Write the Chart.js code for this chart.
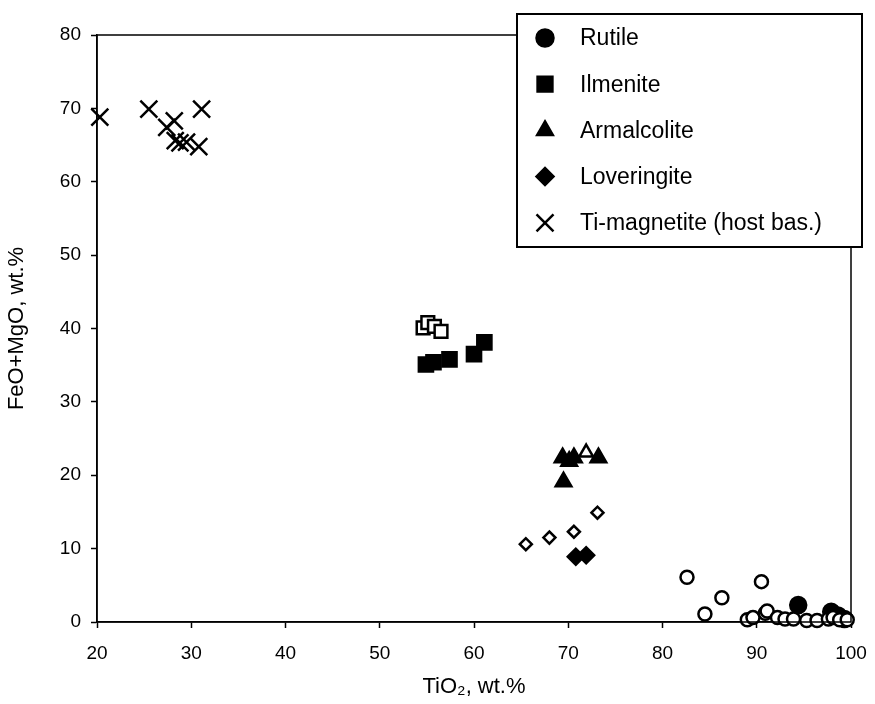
<!DOCTYPE html>
<html>
<head>
<meta charset="utf-8">
<script src="https://cdn.jsdelivr.net/npm/chart.js@4"></script>
<style>
  html, body { margin: 0; padding: 0; background: #fff; }
  #wrap { width: 875px; height: 704px; }
</style>
</head>
<body>
<div id="wrap"><canvas id="bieuDo"></canvas></div>
<script>
// du lieu doc tu hinh: [TiO2, FeO+MgO]
const rutileFilled = [[94.4, 2.3], [97.9, 1.4], [98.6, 0.9], [99.3, 0.4]];
const rutileOpen = [[82.6, 6.1], [86.3, 3.3], [84.5, 1.1], [90.5, 5.5], [89.0, 0.3], [89.6, 0.6],
  [90.9, 1.2], [91.1, 1.5], [92.2, 0.6], [93.0, 0.4], [93.9, 0.4], [95.3, 0.2], [96.4, 0.2],
  [97.6, 0.4], [98.1, 0.6], [98.8, 0.3], [99.6, 0.3]];
const ilmeniteFilled = [[54.9, 35.1], [55.7, 35.4], [57.4, 35.8], [60.0, 36.5], [61.1, 38.1]];
const ilmeniteOpen = [[54.6, 40.1], [55.1, 40.8], [55.8, 40.3], [56.5, 39.6]];
const armalFilled = [[69.4, 22.4], [70.1, 21.9], [70.6, 22.4], [73.2, 22.4], [69.5, 19.1]];
const armalOpen = [[71.9, 23.1]];
const loverFilled = [[70.8, 8.9], [71.9, 9.1]];
const loverOpen = [[65.5, 10.6], [68.0, 11.5], [70.6, 12.3], [73.1, 14.9]];
const magnetite = [[20.3, 68.8], [25.5, 69.9], [27.4, 67.4], [28.2, 68.3], [28.3, 65.6],
  [28.8, 65.3], [29.5, 65.4], [30.8, 64.8], [31.1, 69.9]];

const xTicks = [20, 30, 40, 50, 60, 70, 80, 90, 100];
const yTicks = [0, 10, 20, 30, 40, 50, 60, 70, 80];

const chuThich = [
  { ten: 'Rutile', kieu: 'circle', r: 8.5 },
  { ten: 'Ilmenite', kieu: 'rect', r: 10.5 },
  { ten: 'Armalcolite', kieu: 'triangle', r: 9 },
  { ten: 'Loveringite', kieu: 'rectRot', r: 8.5 },
  { ten: 'Ti-magnetite (host bas.)', kieu: 'crossRot', r: 12 }
];

function diem(arr) {
  return arr.map(p => ({ x: p[0], y: p[1] }));
}

function tapDuLieu(arr, kieu, r, day) {
  return {
    data: diem(arr),
    pointStyle: kieu,
    pointRadius: r,
    pointHoverRadius: r,
    borderColor: '#000',
    backgroundColor: day ? '#000' : '#fff',
    borderWidth: 2.5,
    showLine: false,
    clip: false
  };
}

const FONT = 'Liberation Sans, Arial, sans-serif';

// ve khung va chu thich
const khungPlugin = {
  id: 'khung',
  afterDraw(chart) {
    const ctx = chart.ctx;
    const a = chart.chartArea;
    ctx.save();
    ctx.strokeStyle = '#000';
    ctx.lineWidth = 1.5;
    ctx.strokeRect(a.left, a.top, a.right - a.left, a.bottom - a.top);

    // hop chu thich
    const bx = 517, by = 14, bw = 345, bh = 233;
    ctx.fillStyle = '#fff';
    ctx.fillRect(bx, by, bw, bh);
    ctx.lineWidth = 2;
    ctx.strokeRect(bx, by, bw, bh);
    ctx.font = '23px ' + FONT;
    ctx.textBaseline = 'middle';
    chuThich.forEach((c, i) => {
      const y = 38 + i * 46.2;
      ctx.fillStyle = '#000';
      ctx.strokeStyle = '#000';
      ctx.lineWidth = 2.5;
      Chart.helpers.drawPoint(ctx, { pointStyle: c.kieu, radius: c.r, borderWidth: 2.5 }, 545, y);
      ctx.fill();
      ctx.fillStyle = '#000';
      ctx.fillText(c.ten, 580, y + 1);
    });
    ctx.restore();
  }
};

new Chart(document.getElementById('bieuDo'), {
  type: 'scatter',
  data: {
    datasets: [
      tapDuLieu(rutileOpen, 'circle', 6.5, false),
      tapDuLieu(rutileFilled, 'circle', 8, true),
      tapDuLieu(ilmeniteOpen, 'rect', 9, false),
      tapDuLieu(ilmeniteFilled, 'rect', 10, true),
      tapDuLieu(armalOpen, 'triangle', 8, false),
      tapDuLieu(armalFilled, 'triangle', 9, true),
      tapDuLieu(loverOpen, 'rectRot', 6, false),
      tapDuLieu(loverFilled, 'rectRot', 8, true),
      tapDuLieu(magnetite, 'crossRot', 12, true)
    ]
  },
  options: {
    responsive: true,
    maintainAspectRatio: false,
    animation: false,
    layout: { padding: { top: 35, right: 24, left: 0, bottom: 0 } },
    plugins: {
      legend: { display: false },
      tooltip: { enabled: false }
    },
    scales: {
      x: {
        type: 'linear',
        min: 20,
        max: 100,
        afterBuildTicks: s => { s.ticks = xTicks.map(v => ({ value: v })); },
        afterFit: s => { s.height = 82; s.paddingLeft = 0; s.paddingRight = 0; },
        grid: { drawOnChartArea: false, tickLength: 6, color: '#000', tickWidth: 1.5 },
        border: { color: '#000', width: 1.5 },
        ticks: { color: '#000', font: { family: FONT, size: 19 }, padding: 14 },
        title: {
          display: true,
          text: 'TiO₂, wt.%',
          color: '#000',
          font: { family: FONT, size: 22 },
          padding: { top: 6 }
        }
      },
      y: {
        type: 'linear',
        min: 0,
        max: 80,
        afterBuildTicks: s => { s.ticks = yTicks.map(v => ({ value: v })); },
        afterFit: s => { s.width = 97; s.paddingTop = 0; s.paddingBottom = 0; },
        grid: { drawOnChartArea: false, tickLength: 6, color: '#000', tickWidth: 1.5 },
        border: { color: '#000', width: 1.5 },
        ticks: { color: '#000', font: { family: FONT, size: 19 }, padding: 10 },
        title: {
          display: true,
          text: 'FeO+MgO, wt.%',
          color: '#000',
          font: { family: FONT, size: 22 },
          padding: { bottom: 0 }
        }
      }
    }
  },
  plugins: [khungPlugin]
});
</script>
</body>
</html>
